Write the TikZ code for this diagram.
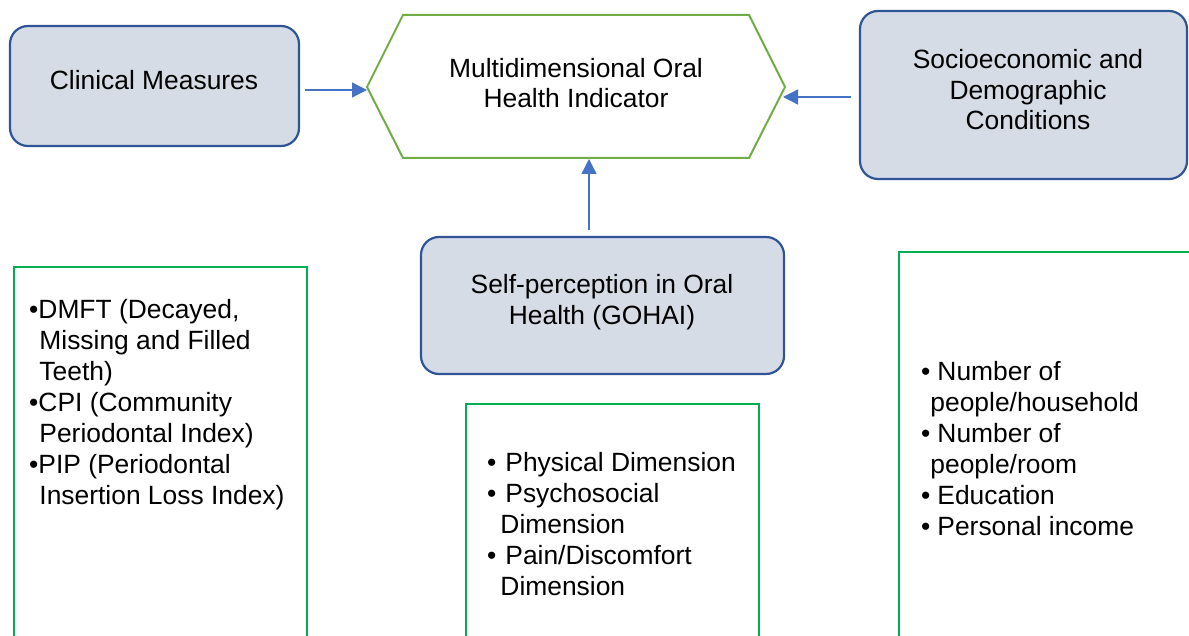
\documentclass[tikz,border=0pt]{standalone}
\usepackage{fontspec}
\setmainfont{Liberation Sans}
\usetikzlibrary{arrows.meta}
\definecolor{boxfill}{HTML}{D6DCE5}
\definecolor{boxdraw}{HTML}{2F5597}
\definecolor{hexgreen}{HTML}{70AD47}
\definecolor{listgreen}{HTML}{00B050}
\definecolor{arrowblue}{HTML}{4472C4}
\newcommand{\bl}{\textbullet}
\newcommand{\ind}{\phantom{\textbullet}}
\tikzset{
  bluebox/.style={draw=boxdraw, line width=2.2pt, fill=boxfill, rounded corners=18pt},
  greenbox/.style={draw=listgreen, line width=2pt},
  hexline/.style={draw=hexgreen, line width=2pt, line join=miter},
  txt/.style={font=\fontsize{26.4}{30.5}\selectfont, inner sep=0pt, align=center, text=black},
  listtxt/.style={font=\fontsize{26.4}{31}\selectfont, inner sep=0pt, align=left, anchor=north west, text=black},
  conn/.style={draw=arrowblue, line width=1.3pt, -{Triangle[length=15pt,width=15pt]}, arrowblue}
}
\begin{document}
\begin{tikzpicture}[x=1pt,y=-1pt]
\useasboundingbox (0,0) rectangle (1189,636);
\clip (0,0) rectangle (1189,636);
% top boxes
\draw[bluebox] (10,26) rectangle (299,146);
\node[txt] (clin) at (154,80) {Clinical Measures};
\draw[bluebox] (860,11) rectangle (1187,179);
\node[txt] (socio) at (1028,90) {Socioeconomic and\\Demographic\\Conditions};
\draw[bluebox] (421,237) rectangle (784,374);
\node[txt] (self) at (602,302) {Self-perception in Oral\\Health (GOHAI)};
% hexagon
\draw[hexline] (367,87) -- (403,15) -- (749,15) -- (785,87) -- (749,158) -- (403,158) -- cycle;
\node[txt] (hex) at (576,83) {Multidimensional Oral\\Health Indicator};
\coordinate (hexL) at (367,90);
\coordinate (hexR) at (783,97);
\coordinate (hexB) at (589,159);
\coordinate (clinR) at (305,90);
\coordinate (socioL) at (851,97);
\coordinate (selfT) at (589,230);
\draw[conn] (clinR) -- (hexL);
\draw[conn] (socioL) -- (hexR);
\draw[conn] (selfT) -- (hexB);
% list boxes
\draw[greenbox] (14,267) rectangle (307,645);
\draw[greenbox] (466,404) rectangle (759,645);
\draw[greenbox] (899,252) rectangle (1200,645);
\node[listtxt] (clist) at (29,299) {\bl DMFT (Decayed,\\\ind\hspace*{1pt}Missing and Filled\\\ind\hspace*{1pt}Teeth)\\\bl CPI (Community\\\ind\hspace*{1pt}Periodontal Index)\\\bl PIP (Periodontal\\\ind\hspace*{1pt}Insertion Loss Index)};
\node[listtxt] (slist) at (487,452) {\bl\hspace{9pt}Physical Dimension\\\bl\hspace{9pt}Psychosocial\\\ind\hspace*{4pt}Dimension\\\bl\hspace{9pt}Pain/Discomfort\\\ind\hspace*{4pt}Dimension};
\node[listtxt] (dlist) at (921,361) {\bl\hspace{7pt}Number of\\\ind people/household\\\bl\hspace{7pt}Number of\\\ind people/room\\\bl\hspace{7pt}Education\\\bl\hspace{7pt}Personal income};
\end{tikzpicture}
\end{document}
